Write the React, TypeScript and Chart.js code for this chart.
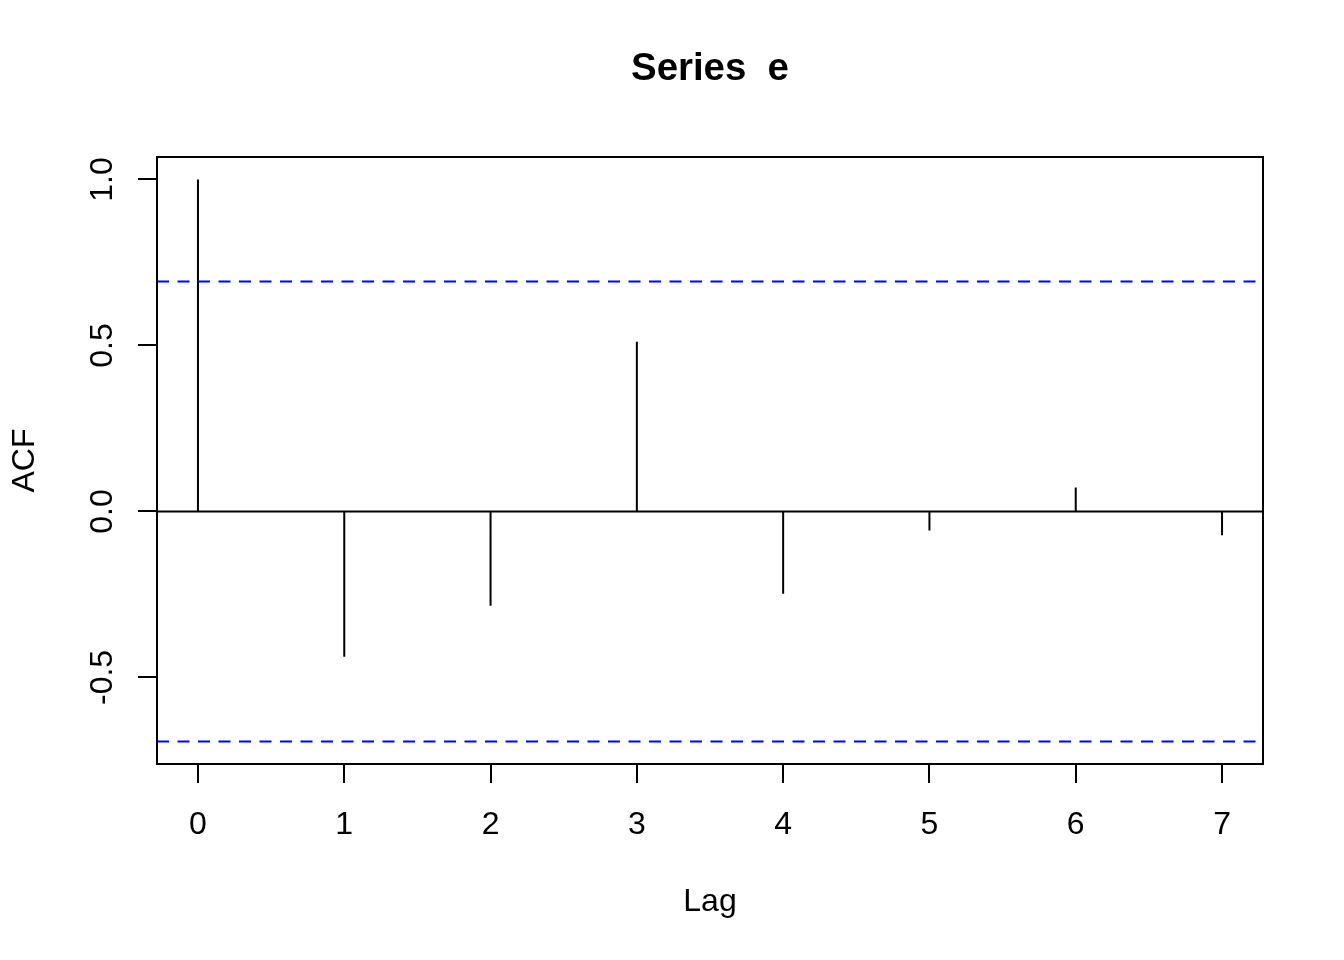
import React, { useEffect, useRef } from "react";
import { Chart, registerables } from "chart.js";

Chart.register(...registerables);

// ---- data ----
const lags: number[] = [0, 1, 2, 3, 4, 5, 6, 7];
const acfValues: number[] = [1.0, -0.438, -0.284, 0.511, -0.248, -0.057, 0.072, -0.072];
const confLimit: number = 0.693;
const xTickValues: number[] = [0, 1, 2, 3, 4, 5, 6, 7];
const yTickValues: number[] = [-0.5, 0.0, 0.5, 1.0];
const titleText = "Series  e";
const xTitle = "Lag";
const yTitle = "ACF";

// axis ranges (R-style 4% extension)
const xMin = -0.28;
const xMax = 7.28;
const yMin = -0.7607;
const yMax = 1.0677;

const FONT = "'Liberation Sans', Arial, Helvetica, sans-serif";

export default function App() {
  const canvasRef = useRef<HTMLCanvasElement | null>(null);

  useEffect(() => {
    const canvas = canvasRef.current;
    if (!canvas) return;

    // stick segments separated by null gaps
    const stickData: any[] = [];
    lags.forEach((lag, i) => {
      stickData.push({ x: lag, y: 0 });
      stickData.push({ x: lag, y: acfValues[i] });
      stickData.push({ x: lag, y: null });
    });

    const decorPlugin = {
      id: "rdecor",
      afterDraw(chart: any) {
        const ctx = chart.ctx;
        const area = chart.chartArea;
        const xs = chart.scales.x;
        const ys = chart.scales.y;
        ctx.save();
        // box
        ctx.strokeStyle = "#000";
        ctx.lineWidth = 2;
        ctx.strokeRect(area.left, area.top, area.right - area.left, area.bottom - area.top);

        ctx.fillStyle = "#000";
        // title
        ctx.font = `bold 38.4px ${FONT}`;
        ctx.textAlign = "center";
        ctx.textBaseline = "alphabetic";
        const cx = (area.left + area.right) / 2;
        ctx.fillText(titleText, cx, 80);

        // x tick labels
        ctx.font = `32px ${FONT}`;
        xs.ticks.forEach((t: any) => {
          const px = xs.getPixelForValue(t.value);
          ctx.fillText(String(t.value), px, 834);
        });
        // x title
        ctx.fillText(xTitle, cx, 911);

        // y tick labels (rotated)
        ys.ticks.forEach((t: any) => {
          const py = ys.getPixelForValue(t.value);
          ctx.save();
          ctx.translate(112, py);
          ctx.rotate(-Math.PI / 2);
          ctx.fillText(t.value.toFixed(1), 0, 0);
          ctx.restore();
        });
        // y title
        ctx.save();
        ctx.translate(33.5, (area.top + area.bottom) / 2);
        ctx.rotate(-Math.PI / 2);
        ctx.fillText(yTitle, 0, 0);
        ctx.restore();

        ctx.restore();
      },
    };

    const chart = new Chart(canvas, {
      type: "line",
      data: {
        datasets: [
          {
            label: "zero",
            data: [
              { x: xMin, y: 0 },
              { x: xMax, y: 0 },
            ],
            borderColor: "#000",
            borderWidth: 2,
            pointRadius: 0,
          },
          {
            label: "upper",
            data: [
              { x: xMin, y: confLimit },
              { x: xMax, y: confLimit },
            ],
            borderColor: "#0000FF",
            borderWidth: 2,
            borderDash: [12, 8.5],
            pointRadius: 0,
          },
          {
            label: "lower",
            data: [
              { x: xMin, y: -confLimit },
              { x: xMax, y: -confLimit },
            ],
            borderColor: "#0000FF",
            borderWidth: 2,
            borderDash: [12, 8.5],
            pointRadius: 0,
          },
          {
            label: "acf",
            data: stickData,
            borderColor: "#000",
            borderWidth: 2,
            pointRadius: 0,
            spanGaps: false,
            borderCapStyle: "butt",
          },
        ],
      },
      options: {
        responsive: false,
        animation: false,
        events: [],
        layout: { padding: { top: 157, right: 81, bottom: 0, left: 0 } },
        plugins: {
          legend: { display: false },
          title: { display: false },
          tooltip: { enabled: false },
        },
        scales: {
          x: {
            type: "linear",
            min: xMin,
            max: xMax,
            afterBuildTicks: (s: any) => {
              s.ticks = xTickValues.map((v) => ({ value: v }));
            },
            afterFit: (s: any) => {
              s.height = 196;
            },
            grid: {
              display: true,
              drawOnChartArea: false,
              drawTicks: true,
              tickLength: 19,
              color: "#000",
              lineWidth: 2,
            },
            border: { display: false },
            ticks: { display: false },
          },
          y: {
            type: "linear",
            min: yMin,
            max: yMax,
            afterBuildTicks: (s: any) => {
              s.ticks = yTickValues.map((v) => ({ value: v }));
            },
            afterFit: (s: any) => {
              s.width = 157;
            },
            grid: {
              display: true,
              drawOnChartArea: false,
              drawTicks: true,
              tickLength: 19,
              color: "#000",
              lineWidth: 2,
            },
            border: { display: false },
            ticks: { display: false },
          },
        },
      },
      plugins: [decorPlugin],
    } as any);

    return () => {
      chart.destroy();
    };
  }, []);

  return (
    <div style={{ position: "absolute", left: 0, top: 0, width: 1344, height: 960, background: "#fff" }}>
      <canvas ref={canvasRef} width={1344} height={960} style={{ display: "block" }} />
    </div>
  );
}
